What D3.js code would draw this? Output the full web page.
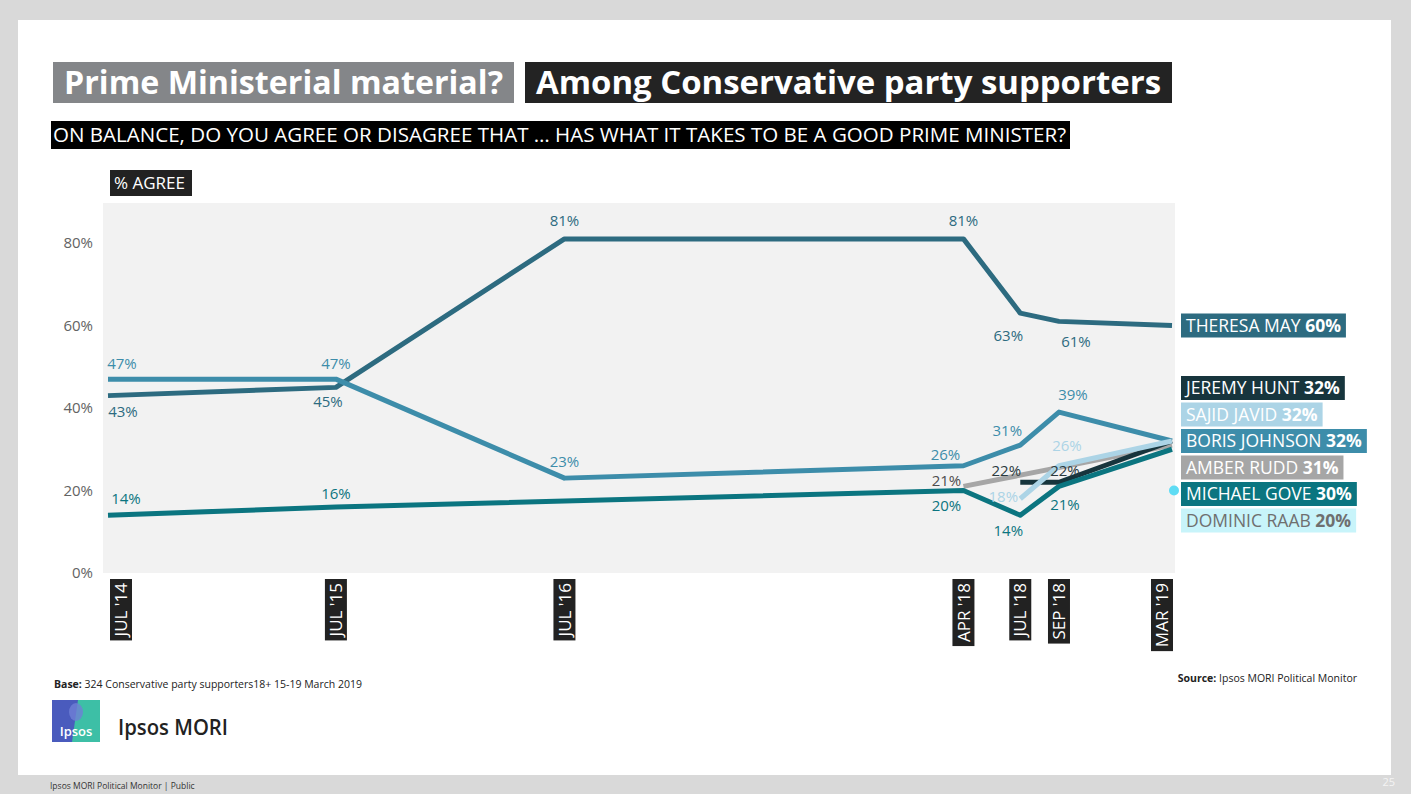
<!DOCTYPE html>
<html>
<head>
<meta charset="utf-8">
<script src="https://cdn.jsdelivr.net/npm/d3@7"></script>
<style>
    body { margin: 0; background: #d9d9d9; }
    svg { display: block; font-family: "Open Sans", "Noto Sans", sans-serif; }
</style>
</head>
<body>
<svg id="chart" width="1411" height="794"></svg>
<script>
// survey waves
const waves = ["2014-07", "2015-07", "2016-07", "2018-04", "2018-07", "2018-09", "2019-03"];
const waveLabels = ["JUL '14", "JUL '15", "JUL '16", "APR '18", "JUL '18", "SEP '18", "MAR '19"];
const yTicks = [0, 20, 40, 60, 80];

// % agree, null = not asked in that wave
const mayValues     = [43, 45, 81, 81, 63, 61, 60];
const johnsonValues = [47, 47, 23, 26, 31, 39, 32];
const goveValues    = [14, 16, null, 20, 14, 21, 30];
const ruddValues    = [null, null, null, 21, null, null, 31];
const huntValues    = [null, null, null, null, 22, 22, 32];
const javidValues   = [null, null, null, null, 18, 26, 32];
const raabValues    = [null, null, null, null, null, null, 20];

const names = ["THERESA MAY", "BORIS JOHNSON", "MICHAEL GOVE", "AMBER RUDD", "JEREMY HUNT", "SAJID JAVID", "DOMINIC RAAB"];

// label nudges (dx, dy) per wave, relative to the point
const labelNudge = [
    [[15, 21], [-8, 20], [0, -13], [0, -13], [-12, 28], [17, 26]],
    [[14, -10], [0, -10], [0, -11], [-18, -6], [-13, -9], [14, -12]],
    [[18, -11], [0, -8], null, [-17, 20], [-12, 21], [6, 24]],
    [null, null, null, [-17, 0]],
    [null, null, null, null, [-14, -6], [6, -6]],
    [null, null, null, null, [-17, 3], [8, -15]],
    []
];

const lineColors  = ["#2d6b80", "#3d8daa", "#0b7580", "#a6a6a6", "#17353d", "#acd4e6", "#5fdcf4"];
const labelColors = ["#2d6b80", "#3d8daa", "#0b7580", "#4d4d4d", "#2b3a3f", "#acd4e6", "#5fdcf4"];
const legendFill  = ["#2d6b80", "#3d8daa", "#0b7580", "#a6a6a6", "#17353d", "#acd4e6", "#c8f4fa"];
const legendText  = ["#fff", "#fff", "#fff", "#fff", "#fff", "#fff", "#6f6f6f"];

const allValues = [mayValues, johnsonValues, goveValues, ruddValues, huntValues, javidValues, raabValues];
const parse = d3.timeParse("%Y-%m");

const series = names.map((name, i) => ({
    name: name,
    idx: i,
    points: allValues[i]
        .map((v, j) => ({ date: parse(waves[j]), value: v, wave: j }))
        .filter(p => p.value !== null)
}));

const svg = d3.select("#chart");

// slide card
svg.append("rect").attr("x", 18).attr("y", 20).attr("width", 1373).attr("height", 755).attr("fill", "#fff");

// titles
function titleBox(x, y, w, h, text, fill) {
    svg.append("rect").attr("x", x).attr("y", y).attr("width", w).attr("height", h).attr("fill", fill);
    svg.append("text")
        .attr("x", x + 11).attr("y", y + h / 2)
        .attr("dy", "0.35em")
        .attr("fill", "#fff")
        .attr("textLength", w - 22).attr("lengthAdjust", "spacingAndGlyphs")
        .style("font-size", "32px")
        .style("font-weight", 700)
        .text(text);
}
titleBox(53, 62, 461, 41, "Prime Ministerial material?", "#848689");
titleBox(525, 62, 647, 41, "Among Conservative party supporters", "#232323");

// question bar
svg.append("rect").attr("x", 51).attr("y", 121).attr("width", 1019).attr("height", 28).attr("fill", "#000");
svg.append("text")
    .attr("x", 53).attr("y", 135).attr("dy", "0.35em")
    .attr("fill", "#fff")
    .attr("textLength", 1013).attr("lengthAdjust", "spacingAndGlyphs")
    .style("font-family", "'Liberation Sans Narrow', 'Open Sans', sans-serif")
    .style("font-size", "20px")
    .text("ON BALANCE, DO YOU AGREE OR DISAGREE THAT \u2026 HAS WHAT IT TAKES TO BE A GOOD PRIME MINISTER?");

svg.append("rect").attr("x", 110).attr("y", 170).attr("width", 82).attr("height", 26).attr("fill", "#222");
svg.append("text")
    .attr("x", 114).attr("y", 183).attr("dy", "0.35em")
    .attr("fill", "#fff")
    .style("font-family", "'Liberation Sans Narrow', 'Open Sans', sans-serif")
    .style("font-size", "17px")
    .text("% AGREE");

// plot
const plot = { left: 103, right: 1175, top: 203, bottom: 573 };
svg.append("rect")
    .attr("x", plot.left).attr("y", plot.top)
    .attr("width", plot.right - plot.left).attr("height", plot.bottom - plot.top)
    .attr("fill", "#f2f2f2");

const x = d3.scaleTime()
    .domain([parse(waves[0]), parse(waves[waves.length - 1])])
    .range([108, 1172]);
const y = d3.scaleLinear().domain([0, 80]).range([573, 243]);

const yAxis = svg.append("g")
    .attr("transform", `translate(${plot.left},0)`)
    .call(d3.axisLeft(y).tickValues(yTicks).tickFormat(d => d + "%").tickSize(0).tickPadding(10));
yAxis.select(".domain").remove();
yAxis.selectAll("text")
    .attr("fill", "#636363")
    .style("font-family", "'Open Sans', sans-serif")
    .style("font-size", "15px");

// x wave labels: rotated dark tags
const xg = svg.append("g");
waves.forEach((w, j) => {
    const cx = Math.max(121, Math.min(1162, x(parse(w))));
    const g = xg.append("g").attr("transform", `translate(${cx},579) rotate(-90)`);
    const r = g.append("rect").attr("fill", "#222").attr("y", -11).attr("height", 22);
    const t = g.append("text")
        .attr("text-anchor", "end")
        .attr("x", -4).attr("dy", "0.36em")
        .attr("fill", "#fff")
        .style("font-size", "17px")
        .text(waveLabels[j]);
    const len = t.node().getComputedTextLength();
    r.attr("x", -len - 8).attr("width", len + 8);
});

// lines
const line = d3.line().x(d => x(d.date)).y(d => y(d.value));
const drawOrder = [0, 1, 3, 4, 2, 5];
drawOrder.forEach(i => {
    const s = series[i];
    svg.append("path")
        .datum(s.points)
        .attr("d", line)
        .attr("fill", "none")
        .attr("stroke", lineColors[i])
        .attr("stroke-width", 5)
        .attr("stroke-linejoin", "round");
});

// raab single point
svg.selectAll(".raab")
    .data(series[6].points)
    .enter().append("circle")
    .attr("cx", d => x(d.date) + 2)
    .attr("cy", d => y(d.value))
    .attr("r", 5)
    .attr("fill", lineColors[6]);

// data labels
series.forEach(s => {
    s.points.forEach(p => {
        const nudge = (labelNudge[s.idx] || [])[p.wave];
        if (!nudge) return;
        svg.append("text")
            .attr("x", x(p.date) + nudge[0])
            .attr("y", y(p.value) + nudge[1])
            .attr("text-anchor", "middle")
            .attr("fill", labelColors[s.idx])
            .style("font-size", "15px")
            .text(p.value + "%");
    });
});

// legend tags at the right
const stackOrder = [4, 5, 1, 3, 2, 6];
function legendTag(i, cy) {
    const last = series[i].points[series[i].points.length - 1];
    const g = svg.append("g").attr("transform", `translate(1181,${cy})`);
    const r = g.append("rect").attr("y", -12).attr("height", 24).attr("fill", legendFill[i]);
    const t = g.append("text").attr("x", 5).attr("dy", "0.36em")
        .attr("fill", legendText[i]).style("font-size", "17.5px");
    t.append("tspan").text(series[i].name + " ");
    t.append("tspan").style("font-weight", 700).text(last.value + "%");
    r.attr("width", t.node().getComputedTextLength() + 10);
}
legendTag(0, y(mayValues[6]));
stackOrder.forEach((i, k) => legendTag(i, 388 + k * 26.5));

// footnotes
const base = svg.append("text").attr("x", 54).attr("y", 688).attr("fill", "#222").style("font-size", "10.5px");
base.append("tspan").style("font-weight", 700).text("Base:");
base.append("tspan").text("  324 Conservative party supporters18+ 15-19 March 2019");

const src = svg.append("text").attr("x", 1357).attr("y", 682).attr("text-anchor", "end")
    .attr("fill", "#222").style("font-size", "10.5px");
src.append("tspan").style("font-weight", 700).text("Source:");
src.append("tspan").text(" Ipsos MORI Political Monitor");

// logo
const logo = svg.append("g").attr("transform", "translate(52,700)");
logo.append("rect").attr("width", 48).attr("height", 42).attr("fill", "#4a5bbd");
logo.append("path").attr("d", "M26,0 L48,0 L48,42 L20,42 Z").attr("fill", "#3dbfa6");
logo.append("ellipse").attr("cx", 24).attr("cy", 12).attr("rx", 7).attr("ry", 9).attr("fill", "#6f7fd6").attr("opacity", 0.8);
logo.append("text").attr("x", 24).attr("y", 36).attr("text-anchor", "middle")
    .attr("fill", "#fff").style("font-size", "13px").style("font-weight", 600).text("Ipsos");
svg.append("text").attr("x", 118).attr("y", 735).attr("fill", "#222")
    .attr("textLength", 110).attr("lengthAdjust", "spacingAndGlyphs")
    .style("font-size", "22px").style("font-weight", 600).text("Ipsos MORI");

// bottom strip
svg.append("text").attr("x", 50).attr("y", 789).attr("fill", "#333").style("font-size", "8.5px")
    .text("Ipsos  MORI  Political  Monitor  |  Public");
svg.append("text").attr("x", 1395).attr("y", 786).attr("text-anchor", "end").attr("fill", "#f4f4f4")
    .style("font-size", "11px").text("25");
</script>
</body>
</html>
